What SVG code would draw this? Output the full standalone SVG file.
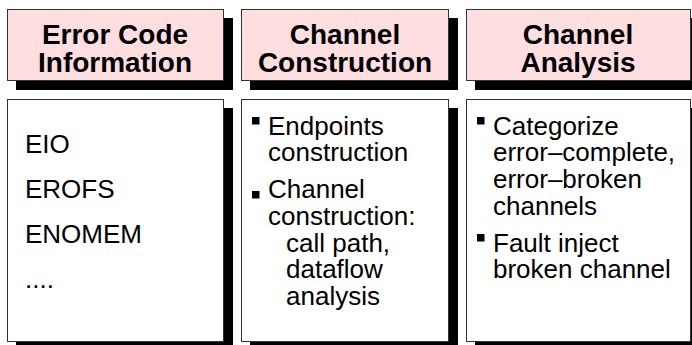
<svg xmlns="http://www.w3.org/2000/svg" width="692" height="345" viewBox="0 0 692 345">
  <style>
    .shadow { fill: #000; }
    .head { fill: #FFDEE0; stroke: #333; stroke-width: 1; }
    .body { fill: #fff; stroke: #333; stroke-width: 1; }
    .title { font-family: "Liberation Sans", Arial, sans-serif; font-weight: bold; font-size: 28px; fill: #000; text-anchor: middle; }
    .item { font-family: "Liberation Sans", Arial, sans-serif; font-size: 26px; fill: #000; }
    .bullet { fill: #000; }
  </style>
  <rect width="692" height="345" fill="#fff"/>

  <!-- Column 1: error codes -->
  <g id="error-code-header">
    <rect class="shadow" x="16" y="18" width="217" height="72"/>
    <rect class="head" x="7.5" y="9.5" width="216" height="71"/>
    <text class="title" x="115" y="44">Error Code</text>
    <text class="title" x="115" y="72">Information</text>
  </g>
  <g id="error-code-body">
    <rect class="shadow" x="16" y="108" width="217" height="245"/>
    <rect class="body" x="7.5" y="99.5" width="216" height="242"/>
    <text class="item" x="25" y="153">EIO</text>
    <text class="item" x="25" y="198">EROFS</text>
    <text class="item" x="25" y="243">ENOMEM</text>
    <text class="item" x="25" y="288">....</text>
  </g>

  <!-- Column 2: channel construction -->
  <g id="channel-construction-header">
    <rect class="shadow" x="250" y="18" width="208" height="72"/>
    <rect class="head" x="241.5" y="9.5" width="207" height="71"/>
    <text class="title" x="345" y="44">Channel</text>
    <text class="title" x="345" y="72">Construction</text>
  </g>
  <g id="channel-construction-body">
    <rect class="shadow" x="250" y="108" width="208" height="245"/>
    <rect class="body" x="241.5" y="99.5" width="207" height="242"/>
    <rect class="bullet" x="252" y="117" width="7.5" height="7.5"/>
    <text class="item" x="268" y="134.7">Endpoints</text>
    <text class="item" x="268" y="161.4">construction</text>
    <rect class="bullet" x="252" y="191" width="7.5" height="7.5"/>
    <text class="item" x="268" y="198.3">Channel</text>
    <text class="item" x="268" y="225">construction:</text>
    <text class="item" x="286" y="251.7">call path,</text>
    <text class="item" x="286" y="278.3">dataflow</text>
    <text class="item" x="286" y="305">analysis</text>
  </g>

  <!-- Column 3: channel analysis -->
  <g id="channel-analysis-header">
    <rect class="shadow" x="475" y="18" width="226" height="72"/>
    <rect class="head" x="466.5" y="9.5" width="224" height="71"/>
    <text class="title" x="578" y="44">Channel</text>
    <text class="title" x="578" y="72">Analysis</text>
  </g>
  <g id="channel-analysis-body">
    <rect class="shadow" x="475" y="108" width="226" height="245"/>
    <rect class="body" x="466.5" y="99.5" width="224" height="242"/>
    <rect class="bullet" x="477" y="117" width="7.5" height="7.5"/>
    <text class="item" x="493" y="134.7">Categorize</text>
    <text class="item" x="493" y="161.4">error–complete,</text>
    <text class="item" x="493" y="188.1">error–broken</text>
    <text class="item" x="493" y="214.8">channels</text>
    <rect class="bullet" x="477" y="234" width="7.5" height="7.5"/>
    <text class="item" x="493" y="251.7">Fault inject</text>
    <text class="item" x="493" y="278.3">broken channel</text>
  </g>

  <g id="connectors"/>
</svg>
